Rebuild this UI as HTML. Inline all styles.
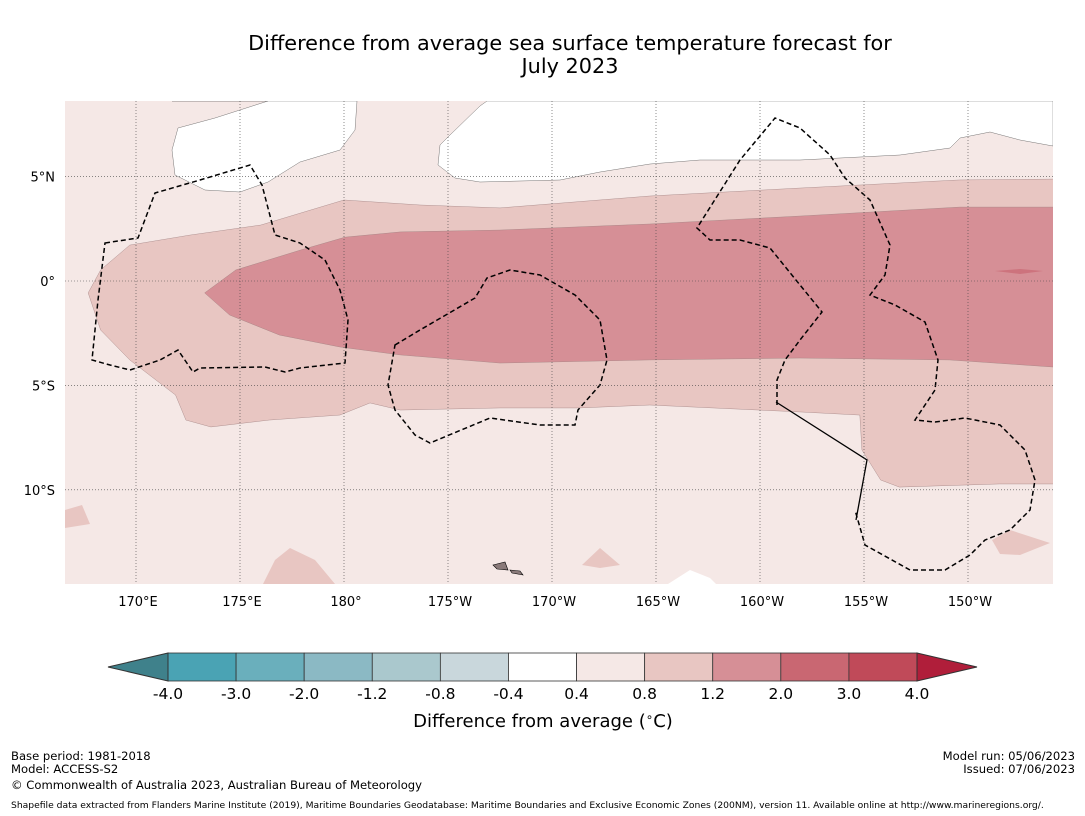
<!DOCTYPE html>
<html><head><meta charset="utf-8">
<style>
body{margin:0;background:#fff;font-family:"DejaVu Sans","Liberation Sans",sans-serif;}
svg{display:block}
</style></head>
<body>
<svg id="chart" width="1085" height="816" viewBox="0 0 1085 816">
<text x="570" y="50" font-size="20.8" text-anchor="middle" fill="#000">Difference from average sea surface temperature forecast for</text>
<text x="570" y="73" font-size="20.8" text-anchor="middle" fill="#000">July 2023</text>
<defs><clipPath id="mapclip"><rect x="65" y="101" width="988" height="483"/></clipPath></defs>
<g id="map" clip-path="url(#mapclip)">
<rect x="65" y="101" width="988" height="483" fill="#f5e8e6"/>
<g id="contours"></g>
<path d="M172,101 L268,101 L215,118 L178,128 L172,150 L175,175 L205,190 L240,192 L268,182 L300,162 L340,150 L355,130 L357,101 Z" fill="#fff" stroke="#555" stroke-width="0.4"/>
<path d="M487,101 L480,106 L450,135 L440,145 L438,165 L455,178 L480,182 L560,180 L600,172 L650,164 L700,160 L800,160 L900,155 L950,148 L960,138 L990,132 L1020,140 L1053,146 L1053,101 Z" fill="#fff" stroke="#555" stroke-width="0.4"/>
<path d="M668,584 L690,570 L710,578 L716,584 Z" fill="#fff"/>
<path d="M263,584 L275,560 L290,548 L315,560 L335,584 Z" fill="#e8c6c2"/>
<path d="M582,565 L600,548 L620,565 L600,568 Z" fill="#e8c6c2"/>
<path d="M992,540 L1010,530 L1050,543 L1020,555 L1000,554 Z" fill="#e8c6c2"/>
<path d="M65,510 L82,505 L90,524 L65,528 Z" fill="#e8c6c2"/>
<path d="M995,271 L1020,269 L1043,271 L1020,274 Z" fill="#c96772" opacity="0.7"/>
<path d="M493,565 L505,562 L508,570 L497,569 Z M510,570 L520,571 L523,575 L512,573 Z" fill="#8a7a7a" stroke="#000" stroke-width="0.6"/>
<g stroke="#000" stroke-width="1.5" fill="none" stroke-dasharray="5,3">
<path d="M105,243 L138,238 L155,193 L200,180 L250,165 L262,185 L275,235 L300,243 L325,260 L340,290 L348,320 L345,363 L300,368 L285,372 L265,367 L200,368 L193,372 L178,350 L160,360 L130,370 L110,365 L92,360 L98,300 Z"/>
<path d="M395,345 L420,330 L475,298 L487,278 L510,270 L540,275 L575,295 L600,320 L607,360 L600,385 L578,410 L575,425 L540,425 L490,418 L430,443 L415,435 L395,410 L388,385 Z"/>
<path d="M777,405 L777,380 L785,360 L800,340 L822,312 L800,285 L770,248 L740,240 L710,240 L697,228 L740,160 L775,118 L800,128 L830,155 L845,178 L870,200 L890,245 L885,275 L870,295 L895,305 L925,322 L938,360 L935,390 L915,420 L935,422 L965,418 L1000,425 L1025,450 L1035,480 L1030,510 L1010,530 L985,540 L970,555 L945,570 L910,570 L865,545 L855,510"/>
</g>
<path d="M776,402 L867,460 L856,520" stroke="#000" stroke-width="1.3" fill="none"/>
<g id="grid" stroke="#444" stroke-width="0.6" stroke-dasharray="1,2"></g>
</g>
<g id="axes" font-size="13" fill="#000"></g>
<g id="colorbar"></g>
<text x="543" y="727" font-size="18" text-anchor="middle">Difference from average (<tspan font-size="12" dy="-6">∘</tspan><tspan dy="6">C)</tspan></text>
<g font-size="11.6" fill="#000">
<text x="11" y="760">Base period: 1981-2018</text>
<text x="11" y="773">Model: ACCESS-S2</text>
<text x="11" y="789">© Commonwealth of Australia 2023, Australian Bureau of Meteorology</text>
<text x="1075" y="760" text-anchor="end">Model run: 05/06/2023</text>
<text x="1075" y="773" text-anchor="end">Issued: 07/06/2023</text>
<text x="11" y="808" font-size="9.2">Shapefile data extracted from Flanders Marine Institute (2019), Maritime Boundaries Geodatabase: Maritime Boundaries and Exclusive Economic Zones (200NM), version 11. Available online at http://www.marineregions.org/.</text>
</g>
</svg>
<script>
const NS="http://www.w3.org/2000/svg";
const lonTicks=[170,175,180,185,190,195,200,205,210];
const lonLabels=["170°E","175°E","180°","175°W","170°W","165°W","160°W","155°W","150°W"];
const latTicks=[5,0,-5,-10];
const latLabels=["5°N","0°","5°S","10°S"];
const levels=[-4.0,-3.0,-2.0,-1.2,-0.8,-0.4,0.4,0.8,1.2,2.0,3.0,4.0];
const levelColors=["#4aa3b4","#6aafbc","#8bb9c4","#aac8cd","#c9d7dc","#ffffff","#f5e8e6","#e8c6c2","#d68f96","#c96772","#c04a59"];
const band08Lon=[167.7,168.3,169.7,172.6,176.0,180.0,183.65,187.5,194.7,201.9,209.6,214.1,214.1,211.5,206.7,205.8,204.9,204.8,201.9,194.7,191.3,187.5,182.7,181.25,179.8,176.4,173.6,172.4,171.9,169.7,168.3];
const band08Lat=[-0.57,0.53,1.72,2.2,2.68,3.88,3.64,3.5,4.07,4.45,4.84,4.88,-9.72,-9.72,-9.87,-9.53,-8.09,-6.42,-6.27,-5.94,-6.08,-6.08,-6.18,-5.84,-6.42,-6.66,-6.99,-6.66,-5.46,-3.78,-2.35];
const band12Lon=[173.3,174.8,177.9,180.05,182.7,187.5,194.7,201.9,209.6,214.1,214.1,209.1,201.9,194.7,187.5,182.7,179.8,176.9,174.5];
const band12Lat=[-0.57,0.53,1.48,2.1,2.35,2.44,2.73,3.11,3.54,3.54,-4.12,-3.78,-3.69,-3.78,-3.93,-3.54,-3.16,-2.59,-1.63];
const X=lon=>136+(lon-170)*20.8;
const Y=lat=>281-lat*20.88;
function poly(lons,lats,fill,name){
  const p=document.createElementNS(NS,"polygon");
  p.setAttribute("points",lons.map((l,i)=>X(l)+","+Y(lats[i])).join(" "));
  p.setAttribute("fill",fill);p.setAttribute("stroke","#a08080");p.setAttribute("stroke-width","0.4");
  
  
  document.getElementById("contours").appendChild(p);
}
poly(band08Lon,band08Lat,"#e8c6c2","contour-0.8-1.2");
poly(band12Lon,band12Lat,"#d68f96","contour-1.2-2.0");
const grid=document.getElementById("grid"),axes=document.getElementById("axes");
lonTicks.forEach((l,i)=>{
  const ln=document.createElementNS(NS,"line");
  ln.setAttribute("x1",X(l));ln.setAttribute("x2",X(l));ln.setAttribute("y1",101);ln.setAttribute("y2",584);
  
  
  grid.appendChild(ln);
  const t=document.createElementNS(NS,"text");
  t.setAttribute("x",X(l)+2);t.setAttribute("y",606);t.setAttribute("text-anchor","middle");t.textContent=lonLabels[i];
  
  
  axes.appendChild(t);
});
latTicks.forEach((l,i)=>{
  const ln=document.createElementNS(NS,"line");
  ln.setAttribute("x1",65);ln.setAttribute("x2",1053);ln.setAttribute("y1",Y(l));ln.setAttribute("y2",Y(l));
  
  
  grid.appendChild(ln);
  const t=document.createElementNS(NS,"text");
  t.setAttribute("x",55);t.setAttribute("y",Y(l)+5);t.setAttribute("text-anchor","end");t.textContent=latLabels[i];
  
  
  axes.appendChild(t);
});
const cb=document.getElementById("colorbar");
const cx0=168,cx1=917,cy=653,ch=28,seg=(cx1-cx0)/levelColors.length;
levelColors.forEach((c,i)=>{
  const r=document.createElementNS(NS,"rect");
  r.setAttribute("x",cx0+i*seg);r.setAttribute("y",cy);r.setAttribute("width",seg);r.setAttribute("height",ch);
  r.setAttribute("fill",c);r.setAttribute("stroke","#333");r.setAttribute("stroke-width","0.8");
  
  
  cb.appendChild(r);
});
levels.forEach((v,i)=>{
  const t=document.createElementNS(NS,"text");
  t.setAttribute("x",cx0+i*seg);t.setAttribute("y",699);t.setAttribute("text-anchor","middle");t.setAttribute("font-size","15.5");
  t.textContent=v.toFixed(1);
  
  
  cb.appendChild(t);
});
const lt=document.createElementNS(NS,"polygon");
lt.setAttribute("points",`${cx0},${cy} 108,${cy+ch/2} ${cx0},${cy+ch}`);lt.setAttribute("fill","#3f818b");lt.setAttribute("stroke","#333");


cb.appendChild(lt);
const rt=document.createElementNS(NS,"polygon");
rt.setAttribute("points",`${cx1},${cy} 977,${cy+ch/2} ${cx1},${cy+ch}`);rt.setAttribute("fill","#b01e3a");rt.setAttribute("stroke","#333");


cb.appendChild(rt);
</script>
</body></html>
